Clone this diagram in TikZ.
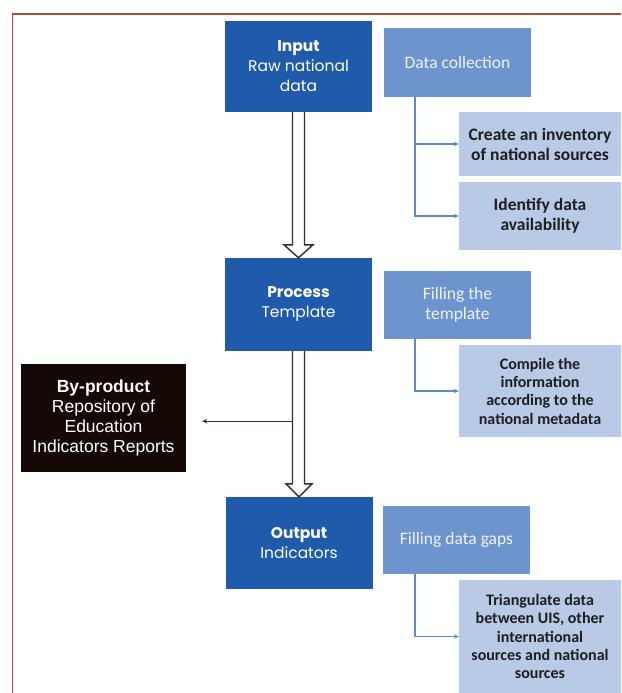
\documentclass[tikz,border=0pt]{standalone}
\usepackage{fontspec}
\setmainfont{Liberation Sans}
\newfontfamily\poppf{Poppins}
\newfontfamily\calib{Carlito}
\usetikzlibrary{arrows.meta,calc}
\definecolor{mainblue}{HTML}{1F5BAA}
\definecolor{midblue}{HTML}{6E94CD}
\definecolor{lightblue}{HTML}{B8CAE6}
\definecolor{connblue}{HTML}{5E8ACB}
\definecolor{framered}{HTML}{A84A3C}
\definecolor{arrowbrown}{HTML}{3A2A20}
\definecolor{bpblack}{HTML}{150906}
\definecolor{midtext}{HTML}{EEF2FA}
\definecolor{darktext}{HTML}{1E1E1E}
\begin{document}
\begin{tikzpicture}[x=1pt,y=-1pt,
  mainbox/.style={fill=mainblue, text=white, minimum width=147pt, minimum height=#1,
    inner sep=0pt, align=center, font=\poppf\fontsize{15.5}{20}\selectfont},
  midbox/.style={fill=midblue, text=midtext, minimum width=147pt, minimum height=#1,
    inner sep=0pt, align=center, font=\calib\fontsize{17.5}{20}\selectfont},
  lightbox/.style={fill=lightblue, text=darktext, minimum width=162pt, minimum height=#1,
    inner sep=0pt, align=center, font=\calib\bfseries\fontsize{16}{18.3}\selectfont},
  lightboxbig/.style={lightbox=#1, font=\calib\bfseries\fontsize{17.5}{20}\selectfont},
  bpbox/.style={fill=bpblack, text=white, minimum width=165pt, minimum height=108pt,
    inner sep=0pt, align=center, font=\fontsize{17.5}{20.3}\selectfont},
  bigarrow/.style={fill=white, draw=arrowbrown, line width=1.4pt, line join=miter},
  thinarrow/.style={draw=arrowbrown, line width=1.2pt, -{Stealth[length=5pt,width=4.5pt]}},
  bluelink/.style={draw=connblue, line width=1.4pt, -{Stealth[length=5pt,width=4.5pt]}}
]
\useasboundingbox (0,0) rectangle (621,693);
\fill[white] (0,0) rectangle (621,693);
\draw[framered, line width=1.3pt] (621,14) -- (12.5,14) -- (12.5,693);

% main column
\node[mainbox=91pt] (in) at (298.5,66.5) {{\bfseries Input}\\Raw national\\data};
\node[mainbox=93pt] (pr) at (298.5,304.5) {{\bfseries Process}\\Template};
\node[mainbox=92pt] (out) at (299,543) {{\bfseries Output}\\Indicators};

% middle column
\node[midbox=69pt] (dc) at (457.5,62.5) {Data collection};
\node[midbox=68pt] (ft) at (457.5,305) {Filling the\\template};
\node[midbox=68pt] (fg) at (456.5,540) {Filling data gaps};

% right column
\node[lightboxbig=64pt] (inv) at (540,144) {Create an inventory\\of national sources};
\node[lightboxbig=68pt] (idf) at (540,216) {Identify data\\availability};
\node[lightbox=92pt] (cmp) at (540,391) {Compile the\\information\\according to the\\national metadata};
\node[lightbox=113pt] (tri) at (540,636.5) {Triangulate data\\between UIS, other\\international\\sources and national\\sources};

% by-product
\node[bpbox] (bp) at (103.5,418) {{\bfseries By-product}\\Repository of\\Education\\Indicators Reports};

% big hollow arrows
\filldraw[bigarrow] ($(in.south)+(-6,0)$) -- ($(pr.north)+(-6,-13)$) -- ($(pr.north)+(-14.5,-13)$)
  -- (pr.north) -- ($(pr.north)+(14.5,-13)$) -- ($(pr.north)+(6,-13)$) -- ($(in.south)+(6,0)$);
\filldraw[bigarrow] ($(pr.south)+(-6,0)$) -- ($(out.north)+(-6.5,-13)$) -- ($(out.north)+(-13,-13)$)
  -- (out.north) -- ($(out.north)+(13,-13)$) -- ($(out.north)+(5.5,-13)$) -- ($(pr.south)+(6,0)$);

% by-product branch
\coordinate (brk) at ($(pr.south)+(-6,70)$);
\draw[thinarrow] (brk) -- ($(brk -| bp.east)+(16,0)$);

% blue elbow links
\draw[bluelink] ($(dc.south west)+(31,0)$) |- (inv.west);
\draw[bluelink] ($(dc.south west)+(31,0)$) |- (idf.west);
\draw[bluelink] ($(ft.south west)+(31,0)$) |- (cmp.west);
\draw[bluelink] ($(fg.south west)+(32,0)$) |- (tri.west);
\end{tikzpicture}
\end{document}
